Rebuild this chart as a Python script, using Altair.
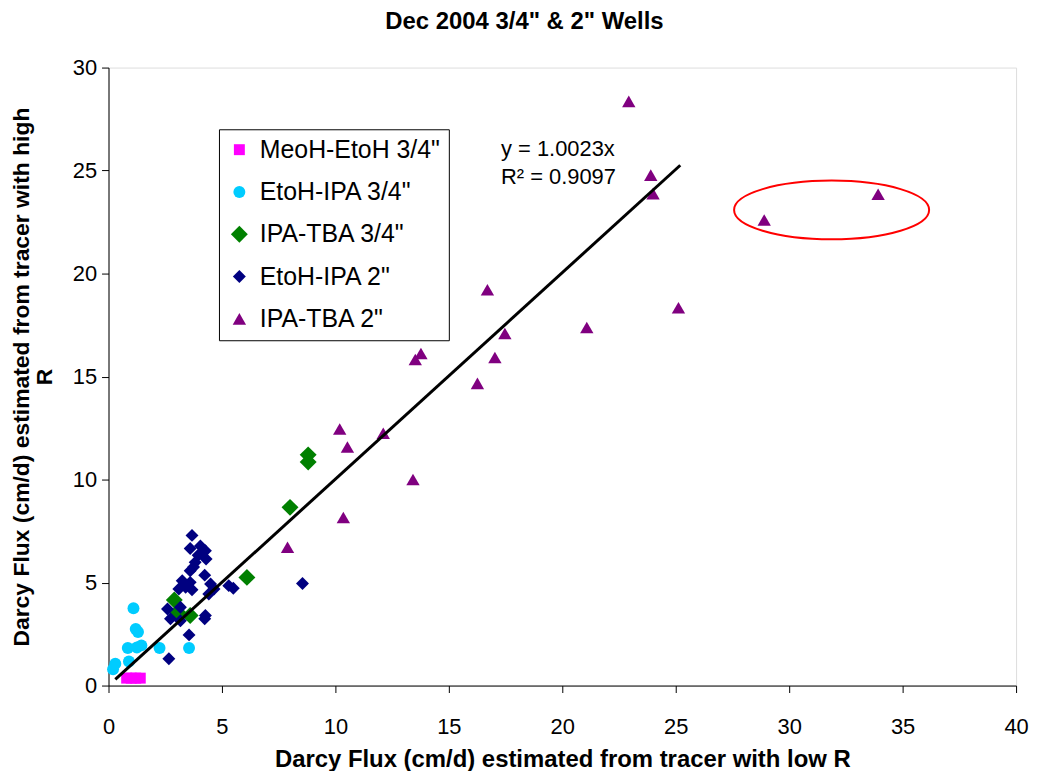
import altair as alt
import pandas as pd

FONT = "Liberation Sans"

series_names = ['MeoH-EtoH 3/4"', 'EtoH-IPA 3/4"', 'IPA-TBA 3/4"', 'EtoH-IPA 2"', 'IPA-TBA 2"']
series_colors = ["#FF00FF", "#00CCFF", "#008000", "#000080", "#800080"]
series_shapes = ["square", "circle", "diamond", "diamond", "triangle-up"]
series_sizes = [121, 144, 289, 169, 180]

meoh_x = [0.8, 1.0, 1.2, 1.4]
meoh_y = [0.36, 0.36, 0.36, 0.36]

etoh34_x = [1.1, 1.2, 1.3, 0.85, 1.25, 1.45, 2.25, 3.55, 0.9, 0.3, 0.2]
etoh34_y = [3.75, 2.75, 2.6, 1.82, 1.85, 1.95, 1.82, 1.82, 1.17, 1.06, 0.79]

ipa34_x = [8.8, 8.8, 8.0, 6.1, 2.9, 3.6, 3.05]
ipa34_y = [11.2, 10.85, 8.65, 5.25, 4.15, 3.4, 3.56]

etoh2_x = [3.68, 3.6, 4.05, 4.27, 3.95, 4.3, 3.82, 3.6, 3.75, 4.24, 3.25, 3.6, 3.4, 3.68,
           3.1, 4.5, 4.65, 4.42, 5.3, 5.5, 8.55, 3.17, 2.6, 2.73, 3.17, 4.27, 4.24, 3.55, 2.66]
etoh2_y = [7.29, 6.65, 6.78, 6.54, 6.33, 6.14, 5.98, 5.57, 5.75, 5.36, 5.09, 5.01, 4.77, 4.65,
           4.69, 4.93, 4.69, 4.44, 4.85, 4.72, 4.95, 3.8, 3.72, 3.24, 3.15, 3.4, 3.24, 2.46, 1.3]

ipa2_x = [22.93, 23.9, 24.0, 28.9, 33.92, 16.7, 25.12, 21.08, 17.47, 17.03, 16.26, 13.77,
          13.52, 10.19, 10.53, 12.11, 13.42, 10.35, 7.89]
ipa2_y = [28.36, 24.78, 23.88, 22.6, 23.85, 19.21, 18.34, 17.38, 17.09, 15.93, 14.67, 16.12,
          15.83, 12.45, 11.58, 12.25, 10.0, 8.16, 6.71]

fit_slope = 1.0023
fit_x = [0.3, 25.2]
fit_labels = ["y = 1.0023x", "R² = 0.9097"]
fit_label_x = [17.3, 17.3]
fit_label_y = [26.05, 24.7]

ellipse_x = [31.87]
ellipse_y = [23.09]

x_ticks = [0, 5, 10, 15, 20, 25, 30, 35, 40]
y_ticks = [0, 5, 10, 15, 20, 25, 30]

rows = []
for name, xs, ys in zip(series_names,
                        [meoh_x, etoh34_x, ipa34_x, etoh2_x, ipa2_x],
                        [meoh_y, etoh34_y, ipa34_y, etoh2_y, ipa2_y]):
    for xv, yv in zip(xs, ys):
        rows.append({"x": xv, "y": yv, "series": name})
df = pd.DataFrame(rows)

fit_df = pd.DataFrame({"x": fit_x, "y": [fit_slope * v for v in fit_x]})
lab_df = pd.DataFrame({"x": fit_label_x, "y": fit_label_y, "label": fit_labels})
ell_df = pd.DataFrame({"x": ellipse_x, "y": ellipse_y})

xscale = alt.Scale(domain=[0, 40], nice=False, zero=False)
yscale = alt.Scale(domain=[0, 30], nice=False, zero=False)

x_axis = alt.Axis(
    values=x_ticks, grid=False, tickSize=7, tickColor="black", domainColor="black",
    labelFont=FONT, labelFontSize=22, labelColor="black", labelPadding=34,
    labelBaseline="middle", labelFlush=False,
    title="Darcy Flux (cm/d) estimated from tracer with low R",
    titleFont=FONT, titleFontSize=24, titleFontWeight="bold", titleColor="black",
    titleY=74, titleBaseline="middle",
)
y_axis = alt.Axis(
    values=y_ticks, grid=False, tickSize=7, tickColor="black", domainColor="black",
    labelFont=FONT, labelFontSize=22, labelColor="black", labelPadding=5, labelFlush=False,
    title=["Darcy Flux (cm/d) estimated from tracer with high", "R"],
    titleFont=FONT, titleFontSize=23, titleFontWeight="bold", titleColor="black",
    titleAngle=-90, titleX=-87, titleY=310.5, titleAlign="center",
    titleBaseline="middle", titleLineHeight=23,
)

legend = alt.Legend(
    title=None, orient="none", legendX=111, legendY=62,
    strokeColor="black", fillColor="white", padding=8, rowPadding=16.5,
    labelFont=FONT, labelFontSize=25, labelColor="black", labelLimit=400,
    labelOffset=8, symbolStrokeWidth=0, symbolOpacity=1,
)

points = alt.Chart(df).mark_point(filled=True, opacity=1, strokeWidth=0).encode(
    x=alt.X("x:Q", scale=xscale, axis=x_axis),
    y=alt.Y("y:Q", scale=yscale, axis=y_axis),
    color=alt.Color("series:N", scale=alt.Scale(domain=series_names, range=series_colors), legend=legend),
    shape=alt.Shape("series:N", scale=alt.Scale(domain=series_names, range=series_shapes), legend=legend),
    size=alt.Size("series:N", scale=alt.Scale(type="ordinal", domain=series_names, range=series_sizes), legend=legend),
)

line = alt.Chart(fit_df).mark_line(color="black", strokeWidth=3).encode(
    x=alt.X("x:Q", scale=xscale), y=alt.Y("y:Q", scale=yscale)
)

ellipse = alt.Chart(ell_df).mark_point(
    shape="M -1 0 A 1 0.301 0 1 0 1 0 A 1 0.301 0 1 0 -1 0 Z",
    size=38416, stroke="red", strokeWidth=2, filled=False, opacity=1,
).encode(x=alt.X("x:Q", scale=xscale), y=alt.Y("y:Q", scale=yscale))

labels = alt.Chart(lab_df).mark_text(
    align="left", baseline="middle", font=FONT, fontSize=22, color="black"
).encode(x=alt.X("x:Q", scale=xscale), y=alt.Y("y:Q", scale=yscale), text="label:N")

chart = alt.layer(points, line, ellipse, labels).properties(
    width=912, height=621,
    title=alt.TitleParams(
        'Dec 2004 3/4" & 2" Wells', font=FONT, fontSize=24, fontWeight="bold",
        color="black", anchor="middle", dx=-38, offset=23,
    ),
    autosize=alt.AutoSizeParams(type="none"),
    padding={"left": 101, "top": 58, "right": 14, "bottom": 84},
).configure_view(stroke=None).configure(background="white")

chart.save("out.html", embed_options={"renderer": "svg", "actions": False})
